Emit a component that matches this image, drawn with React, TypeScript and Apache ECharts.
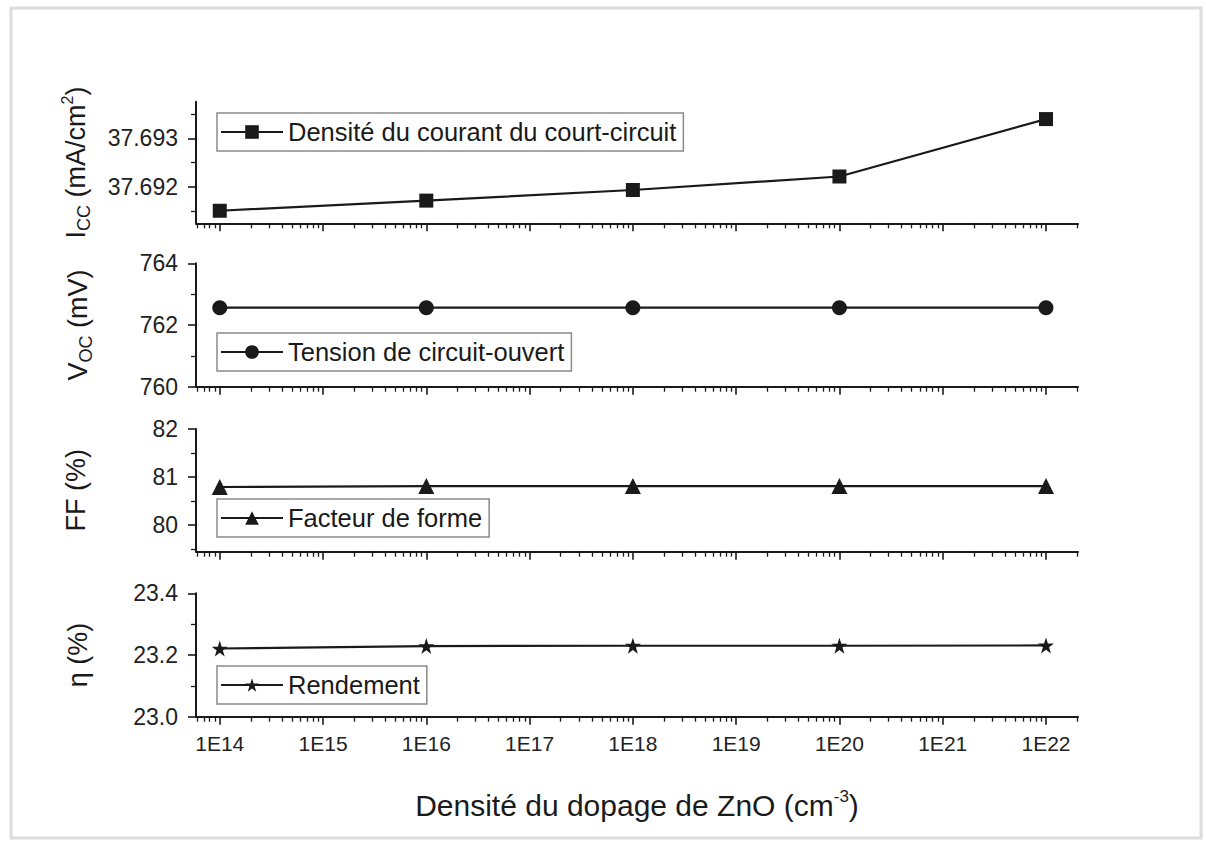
import React, { useEffect, useRef } from "react";
import * as echarts from "echarts";

// ---- data ----
const dopingExp = [14, 16, 18, 20, 22]; // log10 of ZnO doping density (cm^-3)
const iccValues = [37.6915, 37.69171, 37.69193, 37.69221, 37.6934];
const vocValues = [762.56, 762.56, 762.56, 762.56, 762.56];
const ffValues = [80.79, 80.81, 80.81, 80.81, 80.81];
const etaValues = [23.221, 23.229, 23.23, 23.23, 23.231];

const xTickExps = [14, 15, 16, 17, 18, 19, 20, 21, 22];

const seriesNames = [
  "Densité du courant du court-circuit",
  "Tension de circuit-ouvert",
  "Facteur de forme",
  "Rendement",
];

const iccTicks = [37.692, 37.693];
const iccMinor = [37.6915, 37.6925, 37.6935];
const vocTicks = [760, 762, 764];
const vocMinor = [761, 763];
const ffTicks = [80, 81, 82];
const ffMinor = [79.5, 80.5, 81.5];
const etaTicks = [23.0, 23.2, 23.4];
const etaMinor = [23.1, 23.3];

const FONT = "'Liberation Sans', Arial, sans-serif";
const INK = "#1a1a1a";

const STAR =
  "path://M50,0 L61.8,35.5 L99,35.5 L68.9,57.4 L80.4,93 L50,71 L19.6,93 L31.1,57.4 L1,35.5 L38.2,35.5 Z";

export default function App() {
  const ref = useRef<HTMLDivElement>(null);

  useEffect(() => {
    if (!ref.current) return;
    const chart = echarts.init(ref.current, undefined, { renderer: "svg" });

    const xMin = 13.77;
    const xMax = 22.31;
    const xMinor: number[] = [];
    for (let d = 13; d <= 22; d++) {
      for (let k = 2; k <= 9; k++) {
        const v = d + Math.log10(k);
        if (v >= xMin && v <= xMax + 1e-9) xMinor.push(v);
      }
    }

    const grids = [
      { top: 101.7, height: 121.6 },
      { top: 263.3, height: 123.4 },
      { top: 429, height: 122.7 },
      { top: 593.3, height: 123.4 },
    ];
    const yCfg = [
      {
        min: 37.69124, max: 37.69376, ticks: iccTicks, minor: iccMinor,
        fmt: (v: number) => v.toFixed(3),
        name: "{n|I}{sub|CC}{n| (mA/cm}{sup|2}{n|)}", gap: 103,
      },
      {
        min: 760, max: 764, ticks: vocTicks, minor: vocMinor,
        fmt: (v: number) => String(Math.round(v)),
        name: "{n|V}{sub|OC}{n| (mV)}", gap: 101,
      },
      {
        min: 79.44, max: 82, ticks: ffTicks, minor: ffMinor,
        fmt: (v: number) => String(Math.round(v)),
        name: "{n|FF (%)}", gap: 103,
      },
      {
        min: 23.0, max: 23.4, ticks: etaTicks, minor: etaMinor,
        fmt: (v: number) => v.toFixed(1),
        name: "{n|η (%)}", gap: 101,
      },
    ];
    const values = [iccValues, vocValues, ffValues, etaValues];
    const symbols = ["rect", "circle", "triangle", STAR];
    const symSizes = [14, 15, 16, 16];
    const legendTops = [113, 333, 499, 666];

    const richName = {
      n: { fontSize: 27, fontFamily: FONT, color: INK, lineHeight: 34 },
      sub: { fontSize: 18, fontFamily: FONT, color: INK, verticalAlign: "bottom", lineHeight: 16 },
      sup: { fontSize: 16, fontFamily: FONT, color: INK, verticalAlign: "top", lineHeight: 16 },
    };

    const xAxis: any[] = [];
    const yAxis: any[] = [];
    const series: any[] = [];
    const legend: any[] = [];

    grids.forEach((g, i) => {
      const last = i === grids.length - 1;
      xAxis.push({
        type: "value",
        gridIndex: i,
        position: "bottom",
        min: xMin,
        max: xMax,
        axisLine: { show: true, onZero: false, lineStyle: { color: INK, width: 2 } },
        axisTick: { show: true, customValues: xTickExps, length: 8, inside: false, lineStyle: { color: INK, width: 1.6 } },
        axisLabel: {
          show: last,
          customValues: xTickExps,
          formatter: (v: number) => "1E" + Math.round(v),
          fontSize: 21,
          fontFamily: FONT,
          color: "#222",
          margin: 16,
        },
        splitLine: { show: false },
        name: last ? "{n|Densité du dopage de ZnO (cm}{sup|-3}{n|)}" : "",
        nameLocation: "middle",
        nameGap: 71,
        nameTextStyle: {
          rich: {
            n: { fontSize: 30, fontFamily: FONT, color: INK, lineHeight: 36 },
            sup: { fontSize: 17, fontFamily: FONT, color: INK, verticalAlign: "top", lineHeight: 17 },
          },
        },
      });
      xAxis.push({
        type: "value",
        gridIndex: i,
        position: "bottom",
        min: xMin,
        max: xMax,
        axisLine: { show: false, onZero: false },
        axisTick: { show: true, customValues: xMinor, length: 5, lineStyle: { color: INK, width: 1.3 } },
        axisLabel: { show: false },
        splitLine: { show: false },
      });

      const c = yCfg[i];
      yAxis.push({
        type: "value",
        gridIndex: i,
        position: "left",
        min: c.min,
        max: c.max,
        axisLine: { show: true, onZero: false, lineStyle: { color: INK, width: 2 } },
        axisTick: { show: true, customValues: c.ticks, length: 8, lineStyle: { color: INK, width: 1.6 } },
        axisLabel: {
          show: true,
          customValues: c.ticks,
          formatter: c.fmt,
          fontSize: 23,
          fontFamily: FONT,
          color: "#222",
          margin: 18,
        },
        splitLine: { show: false },
        name: c.name,
        nameLocation: "middle",
        nameGap: c.gap,
        nameRotate: 90,
        nameTextStyle: { rich: richName },
      });
      yAxis.push({
        type: "value",
        gridIndex: i,
        position: "left",
        min: c.min,
        max: c.max,
        axisLine: { show: false, onZero: false },
        axisTick: { show: true, customValues: c.minor, length: 5, lineStyle: { color: INK, width: 1.3 } },
        axisLabel: { show: false },
        splitLine: { show: false },
      });

      series.push({
        name: seriesNames[i],
        type: "line",
        xAxisIndex: i * 2,
        yAxisIndex: i * 2,
        data: dopingExp.map((x, j) => [x, values[i][j]]),
        symbol: symbols[i],
        symbolSize: symSizes[i],
        showAllSymbol: true,
        lineStyle: { color: INK, width: 2.2 },
        itemStyle: { color: INK },
      });

      legend.push({
        data: [seriesNames[i]],
        left: 217,
        top: legendTops[i],
        orient: "horizontal",
        selectedMode: false,
        itemWidth: 62,
        itemHeight: 17,
        padding: [6, 7, 6, 3],
        borderColor: "#8a8a8a",
        borderWidth: 1.5,
        borderRadius: 0,
        textStyle: { fontSize: 25.5, fontFamily: FONT, color: INK, lineHeight: 25 },
      });
    });

    chart.setOption({
      animation: false,
      backgroundColor: "#ffffff",
      grid: grids.map((g) => ({ left: 196, right: 128, top: g.top, height: g.height, containLabel: false })),
      xAxis,
      yAxis,
      series,
      legend,
      graphic: [
        {
          type: "rect",
          shape: { x: 11, y: 8, width: 1190, height: 830 },
          style: { fill: "none", stroke: "#dcdcdc", lineWidth: 3 },
          silent: true,
          z: -1,
        },
      ],
    });

    return () => chart.dispose();
  }, []);

  return (
    <div
      ref={ref}
      style={{ position: "fixed", left: 0, top: 0, width: 1206, height: 843, background: "#fff" }}
    />
  );
}
